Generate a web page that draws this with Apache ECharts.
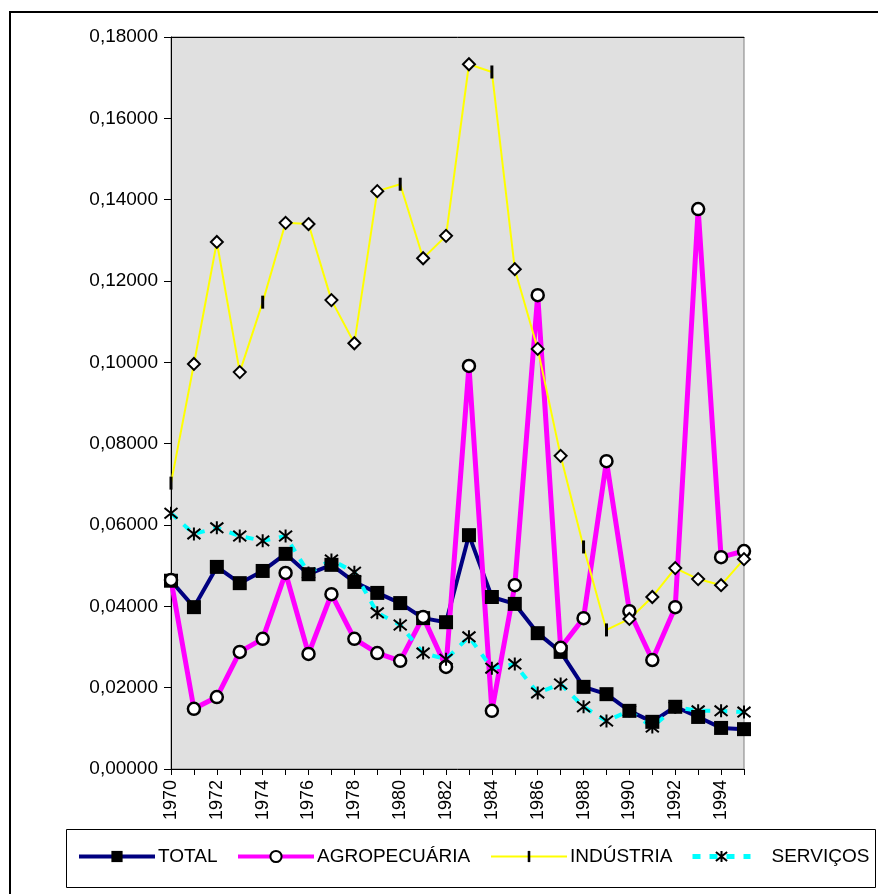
<!DOCTYPE html>
<html>
<head>
<meta charset="utf-8">
<script src="https://cdn.jsdelivr.net/npm/echarts@6/dist/echarts.min.js"></script>
<style>
  html, body { margin: 0; padding: 0; background: #fff; }
  #chart { width: 878px; height: 894px; }
</style>
</head>
<body>
<div id="chart"></div>
<script>
// anos
var years = ['1970','1971','1972','1973','1974','1975','1976','1977','1978','1979',
             '1980','1981','1982','1983','1984','1985','1986','1987','1988','1989',
             '1990','1991','1992','1993','1994','1995'];

var total = [0.0463, 0.0398, 0.0497, 0.0457, 0.0487, 0.0529, 0.0479, 0.0502, 0.0460, 0.0433,
             0.0408, 0.0371, 0.0361, 0.0575, 0.0423, 0.0406, 0.0334, 0.0288, 0.0202, 0.0184,
             0.0143, 0.0116, 0.0153, 0.0128, 0.0101, 0.0098];

var agropecuaria = [0.0465, 0.0148, 0.0177, 0.0288, 0.0320, 0.0482, 0.0283, 0.0430, 0.0320, 0.0285,
                    0.0266, 0.0374, 0.0251, 0.0991, 0.0143, 0.0452, 0.1165, 0.0298, 0.0371, 0.0757,
                    0.0388, 0.0268, 0.0398, 0.1377, 0.0521, 0.0536];

var industria = [0.0703, 0.0996, 0.1296, 0.0976, 0.1148, 0.1343, 0.1340, 0.1153, 0.1047, 0.1421,
                 0.1438, 0.1256, 0.1311, 0.1733, 0.1714, 0.1229, 0.1033, 0.0770, 0.0546, 0.0342,
                 0.0369, 0.0423, 0.0494, 0.0467, 0.0452, 0.0516];

var servicos = [0.0629, 0.0578, 0.0593, 0.0573, 0.0561, 0.0573, 0.0482, 0.0514, 0.0484, 0.0384,
                0.0354, 0.0285, 0.0270, 0.0325, 0.0248, 0.0258, 0.0187, 0.0209, 0.0153, 0.0118,
                0.0143, 0.0103, 0.0152, 0.0143, 0.0143, 0.0140];

// anos em que a indústria aparece com marcador de barra em vez de losango
var barYears = ['1970', '1974', '1980', '1984', '1988', '1989'];

var FONT = '"Liberation Sans", Arial, sans-serif';
var asterisk = 'path://M1,1L9,9M9,1L1,9M5,0L5,10';
// barra vertical dentro de uma caixa quadrada (a legenda nao respeita o aspecto)
var bar = 'path://M0,0L0,0M13,13L13,13M5,0H8V13H5Z';

var chart = echarts.init(document.getElementById('chart'));

var industriaData = industria.map(function (v, i) {
    if (barYears.indexOf(years[i]) >= 0) return v;
    return {
        value: v,
        symbol: 'diamond',
        symbolSize: 12,
        itemStyle: { color: '#fff', borderColor: '#000', borderWidth: 2 }
    };
});

function legendAt(name, left, iconWidth, gap, lineWidth) {
    return {
        data: [name],
        left: left,
        top: 847,
        padding: 0,
        itemWidth: iconWidth,
        itemHeight: 14,
        lineStyle: { width: lineWidth },
        textStyle: { fontFamily: FONT, fontSize: 19, color: '#000', padding: [0, 0, 0, gap] },
        selectedMode: false
    };
}

chart.setOption({
    animation: false,
    backgroundColor: '#fff',
    textStyle: { fontFamily: FONT },
    grid: {
        left: 171, right: 134, top: 37, bottom: 125,
        show: true,
        backgroundColor: '#e0e0e0',
        borderColor: '#808080',
        borderWidth: 1
    },
    legend: [
        legendAt('TOTAL', 77, 76, -2, 4),
        legendAt('AGROPECUÁRIA', 236, 76, -2, 4),
        legendAt('INDÚSTRIA', 490, 76, -2, 2),
        legendAt('SERVIÇOS', 690, 58, 16, 5)
    ],
    graphic: [
        { type: 'rect', shape: { x: 10, y: 12, width: 880, height: 900 },
          style: { fill: 'none', stroke: '#000', lineWidth: 2 }, z: 100 },
        { type: 'rect', shape: { x: 66.5, y: 829.5, width: 809, height: 58 },
          style: { fill: 'none', stroke: '#000', lineWidth: 1 }, z: 100 }
    ],
    xAxis: [{
        type: 'category',
        data: years,
        boundaryGap: false,
        axisLine: { lineStyle: { color: '#000', width: 1 } },
        axisTick: { interval: 0, length: 6, lineStyle: { color: '#000' } },
        axisLabel: { interval: 1, rotate: 90, fontSize: 18, color: '#000', fontFamily: FONT, margin: 11 },
        splitLine: { show: false }
    }, {
        type: 'category',
        data: years,
        position: 'top',
        boundaryGap: false,
        axisLine: { lineStyle: { color: '#000', width: 1 } },
        axisTick: { show: false },
        axisLabel: { show: false }
    }],
    yAxis: {
        type: 'value',
        min: 0, max: 0.18, interval: 0.02,
        axisLine: { show: true, lineStyle: { color: '#000', width: 1 } },
        axisTick: { show: true, length: 7, lineStyle: { color: '#000' } },
        axisLabel: {
            fontSize: 19, color: '#000', fontFamily: FONT, margin: 13,
            formatter: function (v) { return v.toFixed(5).replace('.', ','); }
        },
        splitLine: { show: false }
    },
    series: [{
        name: 'TOTAL',
        type: 'line',
        data: total,
        showAllSymbol: true,
        symbol: 'rect',
        symbolSize: 14,
        lineStyle: { color: '#000080', width: 4 },
        itemStyle: { color: '#000' }
    }, {
        name: 'AGROPECUÁRIA',
        type: 'line',
        data: agropecuaria,
        showAllSymbol: true,
        symbol: 'circle',
        symbolSize: 12,
        lineStyle: { color: '#ff00ff', width: 5 },
        itemStyle: { color: '#fff', borderColor: '#000', borderWidth: 2.5 }
    }, {
        name: 'INDÚSTRIA',
        type: 'line',
        data: industriaData,
        showAllSymbol: true,
        symbol: bar,
        symbolSize: 13,
        lineStyle: { color: '#ffff00', width: 2 },
        itemStyle: { color: '#000' }
    }, {
        name: 'SERVIÇOS',
        type: 'line',
        data: servicos,
        showAllSymbol: true,
        symbol: asterisk,
        symbolSize: 13,
        lineStyle: { color: '#00ffff', width: 4, type: [8, 9] },
        itemStyle: { color: '#00ffff', borderColor: '#000', borderWidth: 2 }
    }]
});
</script>
</body>
</html>
